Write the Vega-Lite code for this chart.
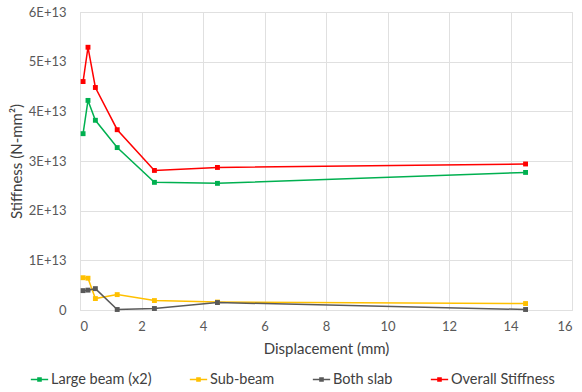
{
  "$schema": "https://vega.github.io/schema/vega-lite/v6.json",
  "width": 492,
  "height": 298,
  "autosize": {"type": "none"},
  "padding": {"left": 80, "top": 12, "right": 10, "bottom": 82},
  "background": "white",
  "config": {
    "font": "Lato",
    "view": {"stroke": "#d9d9d9"},
    "axis": {"gridColor": "#e0e0e0", "domain": false, "ticks": false, "labelColor": "#595959", "titleColor": "#404040", "labelFontSize": 13, "titleFontSize": 15, "titleFontWeight": "normal", "labelFont": "Lato", "titleFont": "Lato"}
  },
  "data": {"values": [
    {"d": 0.1, "s": 3.55, "series": "Large beam (x2)"},
    {"d": 0.26, "s": 4.22, "series": "Large beam (x2)"},
    {"d": 0.5, "s": 3.82, "series": "Large beam (x2)"},
    {"d": 1.21, "s": 3.27, "series": "Large beam (x2)"},
    {"d": 2.42, "s": 2.57, "series": "Large beam (x2)"},
    {"d": 4.47, "s": 2.55, "series": "Large beam (x2)"},
    {"d": 14.49, "s": 2.77, "series": "Large beam (x2)"},
    {"d": 0.1, "s": 0.65, "series": "Sub-beam"},
    {"d": 0.26, "s": 0.64, "series": "Sub-beam"},
    {"d": 0.5, "s": 0.23, "series": "Sub-beam"},
    {"d": 1.21, "s": 0.31, "series": "Sub-beam"},
    {"d": 2.42, "s": 0.19, "series": "Sub-beam"},
    {"d": 4.47, "s": 0.16, "series": "Sub-beam"},
    {"d": 14.49, "s": 0.13, "series": "Sub-beam"},
    {"d": 0.1, "s": 0.39, "series": "Both slab"},
    {"d": 0.26, "s": 0.40, "series": "Both slab"},
    {"d": 0.5, "s": 0.43, "series": "Both slab"},
    {"d": 1.21, "s": 0.01, "series": "Both slab"},
    {"d": 2.42, "s": 0.03, "series": "Both slab"},
    {"d": 4.47, "s": 0.15, "series": "Both slab"},
    {"d": 14.49, "s": 0.01, "series": "Both slab"},
    {"d": 0.1, "s": 4.6, "series": "Overall Stiffness"},
    {"d": 0.26, "s": 5.29, "series": "Overall Stiffness"},
    {"d": 0.5, "s": 4.48, "series": "Overall Stiffness"},
    {"d": 1.21, "s": 3.63, "series": "Overall Stiffness"},
    {"d": 2.42, "s": 2.81, "series": "Overall Stiffness"},
    {"d": 4.47, "s": 2.87, "series": "Overall Stiffness"},
    {"d": 14.49, "s": 2.94, "series": "Overall Stiffness"}
  ]},
  "mark": {"type": "line", "strokeWidth": 1.5, "point": {"shape": "square", "size": 24, "filled": true}},
  "encoding": {
    "x": {"field": "d", "type": "quantitative", "scale": {"domain": [0, 16]}, "axis": {"values": [0,2,4,6,8,10,12,14,16], "title": "Displacement (mm)", "labelPadding": 10, "titlePadding": 8}},
    "y": {"field": "s", "type": "quantitative", "scale": {"domain": [0, 6]}, "axis": {"values": [0,1,2,3,4,5,6], "labelExpr": "datum.value == 0 ? '0' : datum.value + 'E+13'", "title": "Stiffness (N-mm²)", "labelPadding": 14, "titlePadding": 4}},
    "color": {"field": "series", "type": "nominal", "sort": ["Large beam (x2)", "Sub-beam", "Both slab", "Overall Stiffness"],
      "scale": {"domain": ["Large beam (x2)", "Sub-beam", "Both slab", "Overall Stiffness"], "range": ["#00B050", "#FFC000", "#595959", "#FF0000"]},
      "legend": {"title": null, "orient": "none", "legendX": -50, "legendY": 358, "direction": "horizontal", "columns": 4, "labelFontSize": 14.5, "labelColor": "#404040", "labelFont": "Lato", "columnPadding": 34, "symbolType": "M-1,0H1M-0.18,-0.18H0.18V0.18H-0.18Z", "symbolSize": 300, "symbolStrokeWidth": 1.5, "labelOffset": 2}
    }
  }
}
